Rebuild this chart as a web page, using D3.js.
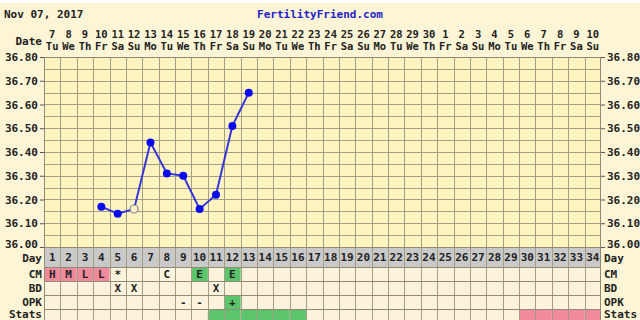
<!DOCTYPE html>
<html><head><meta charset="utf-8">
<script src="https://cdn.jsdelivr.net/npm/d3@7/dist/d3.min.js"></script>
<style>
html,body{margin:0;padding:0;background:#fdf5d6;}
svg{display:block;}
text{font-family:"DejaVu Sans Mono",monospace;font-weight:bold;font-size:11px;fill:#222;}
</style></head>
<body><svg id="c" width="640" height="320"></svg>
<script>
const title = "Nov 07, 2017";
const site = "FertilityFriend.com";
const days = [1,2,3,4,5,6,7,8,9,10,11,12,13,14,15,16,17,18,19,20,21,22,23,24,25,26,27,28,29,30,31,32,33,34];
const dates = ["7","8","9","10","11","12","13","14","15","16","17","18","19","20","21","22","23","24","25","26","27","28","29","30","1","2","3","4","5","6","7","8","9","10"];
const weekdays = ["Tu","We","Th","Fr","Sa","Su","Mo","Tu","We","Th","Fr","Sa","Su","Mo","Tu","We","Th","Fr","Sa","Su","Mo","Tu","We","Th","Fr","Sa","Su","Mo","Tu","We","Th","Fr","Sa","Su"];
const tempTicks = [36.00,36.10,36.20,36.30,36.40,36.50,36.60,36.70,36.80];
const gridLines = [36.05,36.10,36.15,36.20,36.25,36.30,36.35,36.40,36.45,36.50,36.55,36.60,36.65,36.70,36.75];
const tempDays = [4,5,6,7,8,9,10,11,12,13];
const temps = [36.17,36.14,36.16,36.44,36.31,36.30,36.16,36.22,36.51,36.65];
const discardedDays = [6];
const cmDays = [1,2,3,4,5,8,10,12];
const cmText = ["H","M","L","L","*","C","E","E"];
const cmFill = ["pink","pink","pink","pink",null,null,"green","green"];
const bdDays = [5,6,11];
const bdText = ["X","X","X"];
const opkDays = [9,10,12];
const opkText = ["-","-","+"];
const opkFill = [null,null,"green"];
const statsGreenDays = [11,12,13,14,15,16];
const statsPinkDays = [30,31,32,33,34];
const rowNames = ["CM","BD","OPK","Stats"];

const colors = {pink:"#f08a9c", green:"#5cc46a"};
const L=44, R=601, T=57, B=247;
const svg = d3.select("#c");
svg.append("rect").attr("x",0).attr("y",0).attr("width",640).attr("height",3).attr("fill","#ffffff");

const x = d3.scaleBand().domain(days).range([L,R]);
const y = d3.scaleLinear().domain([36.0,36.8]).range([B,T]);
const gridCol = "#a39e86";

// header
svg.append("text").attr("x",4).attr("y",18).text(title);
svg.append("text").attr("x",320).attr("y",18).attr("text-anchor","middle").style("fill","#2323c8").text(site);
svg.append("text").attr("x",42).attr("y",45).attr("text-anchor","end").text("Date");
svg.selectAll("text.dt").data(days).join("text").attr("class","dt")
  .attr("x",d=>x(d)+x.bandwidth()/2).attr("y",38).attr("text-anchor","middle").style("font-size","10.5px").text((d,i)=>dates[i]);
svg.selectAll("text.wd").data(days).join("text").attr("class","wd")
  .attr("x",d=>x(d)+x.bandwidth()/2).attr("y",50).attr("text-anchor","middle").style("font-size","10.5px").text((d,i)=>weekdays[i]);

// plot area
svg.append("rect").attr("x",L).attr("y",T).attr("width",R-L).attr("height",B-T).attr("fill","#fff4bf");
svg.selectAll("line.hg").data(gridLines).join("line").attr("class","hg")
  .attr("x1",L).attr("x2",R).attr("y1",d=>Math.round(y(d))+0.5).attr("y2",d=>Math.round(y(d))+0.5)
  .attr("stroke",gridCol).attr("stroke-width",1);

// table rows
const rowTop = [267,281,295,309];
const rowH = 14;
svg.append("rect").attr("x",L).attr("y",B).attr("width",R-L).attr("height",20).attr("fill","#c9c9c9");
svg.append("rect").attr("x",L).attr("y",267).attr("width",R-L).attr("height",60).attr("fill","#fdf3dc");
function fillCells(dd, fills, row){
  svg.selectAll(null).data(dd).join("rect")
    .attr("x",d=>x(d)).attr("y",rowTop[row]).attr("width",x.bandwidth()).attr("height",rowH)
    .attr("fill",(d,i)=>fills[i] ? colors[fills[i]] : "none");
}
fillCells(cmDays, cmFill, 0);
fillCells(opkDays, opkFill, 2);
fillCells(statsGreenDays, statsGreenDays.map(()=>"green"), 3);
fillCells(statsPinkDays, statsPinkDays.map(()=>"pink"), 3);

// vertical grid lines
svg.selectAll("line.vg").data(days.slice(1)).join("line").attr("class","vg")
  .attr("x1",d=>Math.round(x(d))+0.5).attr("x2",d=>Math.round(x(d))+0.5).attr("y1",T).attr("y2",320)
  .attr("stroke",gridCol).attr("stroke-width",1);
// horizontal table lines
svg.selectAll("line.tl").data([B,267,281,295,309]).join("line").attr("class","tl")
  .attr("x1",L).attr("x2",R).attr("y1",d=>d+0.5).attr("y2",d=>d+0.5)
  .attr("stroke","#8f8a76").attr("stroke-width",1);
// frame
svg.append("rect").attr("x",L+0.5).attr("y",T+0.5).attr("width",R-L-1).attr("height",340).attr("fill","none").attr("stroke","#8f8a76");

// axes
const fmt = d3.format(".2f");
const ax1 = svg.append("g").attr("transform",`translate(${L},0)`).call(d3.axisLeft(y).tickValues(tempTicks).tickFormat(fmt).tickSize(4).tickPadding(2));
const ax2 = svg.append("g").attr("transform",`translate(${R},0)`).call(d3.axisRight(y).tickValues(tempTicks).tickFormat(fmt).tickSize(4).tickPadding(2));
[ax1,ax2].forEach(a=>{a.select(".domain").remove(); a.selectAll("line").attr("stroke","#555");
  a.selectAll("text").style("font-family","DejaVu Sans Mono").style("font-weight","bold").style("font-size","11px").attr("fill","#222");});
ax1.selectAll(".tick").filter(d=>d===36.0).select("text").attr("dy","0.0em");
ax2.selectAll(".tick").filter(d=>d===36.0).select("text").attr("dy","0.0em");

// day numbers
svg.selectAll("text.dn").data(days).join("text").attr("class","dn")
  .attr("x",d=>x(d)+x.bandwidth()/2).attr("y",261).attr("text-anchor","middle").text(d=>d);
svg.append("text").attr("x",42).attr("y",262).attr("text-anchor","end").text("Day");
svg.append("text").attr("x",604).attr("y",262).text("Day");
rowNames.forEach((n,i)=>{
  const by = i===3 ? 318 : rowTop[i]+11;
  svg.append("text").attr("x",42).attr("y",by).attr("text-anchor","end").text(n);
  svg.append("text").attr("x",604).attr("y",by).text(n);
});
function cellText(dd, txt, row){
  svg.selectAll(null).data(dd).join("text")
    .attr("x",d=>x(d)+x.bandwidth()/2).attr("y",rowTop[row]+11).attr("text-anchor","middle").text((d,i)=>txt[i]);
}
cellText(cmDays, cmText, 0);
cellText(bdDays, bdText, 1);
cellText(opkDays, opkText, 2);

// temperature line
const pts = tempDays.map((d,i)=>({d, t:temps[i]}));
svg.append("path").datum(pts)
  .attr("d", d3.line().x(p=>x(p.d)+x.bandwidth()/2).y(p=>y(p.t)))
  .attr("fill","none").attr("stroke","#3535d8").attr("stroke-width",2);
svg.selectAll("circle.pt").data(pts).join("circle").attr("class","pt")
  .attr("cx",p=>x(p.d)+x.bandwidth()/2).attr("cy",p=>y(p.t)).attr("r",4)
  .attr("fill",p=>discardedDays.includes(p.d) ? "#fff4bf" : "#0a0af0")
  .attr("stroke",p=>discardedDays.includes(p.d) ? "#8080a8" : "#0a0af0")
  .attr("stroke-width",p=>discardedDays.includes(p.d) ? 1.2 : 0);
</script></body></html>
